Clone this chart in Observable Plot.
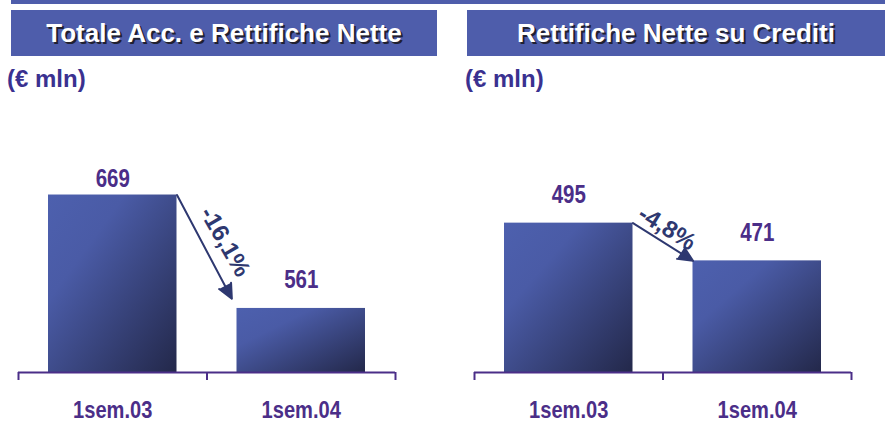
<!DOCTYPE html>
<html><head><meta charset="utf-8">
<script src="https://cdn.jsdelivr.net/npm/d3@7"></script>
<script src="https://cdn.jsdelivr.net/npm/@observablehq/plot@0.6"></script>
<style>
html,body{margin:0;padding:0;background:#fff;}
#page{position:relative;width:885px;height:422px;overflow:hidden;font-family:"Liberation Sans",Arial,sans-serif;}
.strip{position:absolute;left:11px;top:0;width:874px;height:4px;background:#4e5dab;}
.titlebox{position:absolute;top:10px;height:46px;background:#4e5dab;color:#fff;font-weight:bold;font-size:26px;display:flex;align-items:center;justify-content:center;text-shadow:2px 2px 0 #202030;white-space:nowrap;}
.unit{position:absolute;top:67px;line-height:24px;font-size:24px;font-weight:bold;color:#3a3190;white-space:nowrap;}
.panel{position:absolute;top:100px;}
</style></head><body><div id="page"><div class="strip"></div></div>
<script>
// ---- data ----
const categories = ["1sem.03", "1sem.04"];
const totaleValues = [669, 561];
const creditiValues = [495, 471];
const changeLabels = ["-16,1%", "-4,8%"];
const panelTitles = ["Totale Acc. e Rettifiche Nette", "Rettifiche Nette su Crediti"];
const unitLabel = "(€ mln)";
const axisBase = [500, 400];
const axisTop = [759, 573];

// ---- layout / style ----
const purple = "#4b2e88";
const navy = "#2e3870";
const panels = [
  {values: totaleValues, left: 0, width: 440, mL: 18, mR: 45, titleLeft: 11, titleWidth: 426, unitLeft: 7,
   firstDy: -8, insetEnd: 11, lblDx: 18, lblDy: -10, rotate: 60},
  {values: creditiValues, left: 440, width: 445, mL: 34, mR: 34, titleLeft: 467, titleWidth: 418, unitLeft: 465,
   firstDy: -20, insetEnd: 0, lblDx: 4, lblDy: -14, rotate: 32}
];
const H = 322, mB = 50, barInset = 30;
const page = document.getElementById("page");

panels.forEach((p, k) => {
  const t = document.createElement("div");
  t.className = "titlebox";
  t.style.left = p.titleLeft + "px"; t.style.width = p.titleWidth + "px";
  t.textContent = panelTitles[k];
  page.appendChild(t);
  const u = document.createElement("div");
  u.className = "unit"; u.style.left = p.unitLeft + "px"; u.textContent = unitLabel;
  page.appendChild(u);

  const base = axisBase[k];
  const rows = categories.map((c, i) => ({category: c, index: i, value: p.values[i]}));
  const bandPx = (p.width - p.mL - p.mR) / categories.length;
  const insetData = barInset / bandPx;
  const change = {label: changeLabels[k], v0: p.values[0], v1: p.values[1]};
  const gradId = "barGrad" + k;

  const svg = Plot.plot({
    width: p.width, height: H,
    marginLeft: p.mL, marginRight: p.mR, marginTop: 0, marginBottom: mB,
    x: {type: "linear", domain: [0, categories.length]},
    y: {domain: [base, axisTop[k]], axis: null},
    style: {fontFamily: "'Liberation Sans', Arial, sans-serif", overflow: "visible", background: "transparent"},
    marks: [
      Plot.rect(rows, {x1: d => d.index, x2: d => d.index + 1, y1: () => base, y2: "value",
        insetLeft: barInset, insetRight: barInset, fill: `url(#${gradId})`}),
      Plot.ruleY([base], {stroke: purple, strokeWidth: 2}),
      Plot.axisX({ticks: d3.range(categories.length + 1), tickSize: 8, stroke: purple, strokeWidth: 2,
        fill: "none", label: null}),
      Plot.axisX({ticks: categories.map((c, i) => i + 0.5), tickSize: 0, tickPadding: 28,
        tickFormat: v => categories[Math.floor(v)], fill: purple, fontSize: 24.5, fontWeight: "bold", label: null}),
      Plot.text(rows.filter(d => d.index === 0), {x: d => d.index + 0.5, y: "value", text: d => String(d.value),
        dy: p.firstDy, lineAnchor: "bottom", fontSize: 25, fontWeight: "bold", fill: purple}),
      Plot.text(rows.filter(d => d.index > 0), {x: d => d.index + 0.5, y: "value", text: d => String(d.value),
        dy: -20, lineAnchor: "bottom", fontSize: 25, fontWeight: "bold", fill: purple}),
      Plot.arrow([change], {x1: () => 1 - insetData, y1: "v0", x2: () => 1 + insetData, y2: "v1",
        stroke: navy, fill: navy, strokeWidth: 2, headLength: 12, headAngle: 50, insetEnd: p.insetEnd}),
      Plot.text([change], {x: () => 1, y: d => (d.v0 + d.v1) / 2, text: "label", rotate: p.rotate,
        dx: p.lblDx, dy: p.lblDy, textAnchor: "middle", lineAnchor: "middle",
        fontSize: 24, fontWeight: "bold", fill: navy})
    ]
  });

  const s = d3.select(svg);
  const grad = s.insert("defs", ":first-child").append("linearGradient")
    .attr("id", gradId).attr("x1", 0).attr("y1", 0).attr("x2", 1).attr("y2", 1);
  grad.append("stop").attr("offset", "0").attr("stop-color", "#4d60ae");
  grad.append("stop").attr("offset", "0.3").attr("stop-color", "#4a5ba6");
  grad.append("stop").attr("offset", "1").attr("stop-color", "#23284a");
  // narrow (condensed) look for value and category labels
  s.selectAll("text").each(function () {
    const tr = this.getAttribute("transform") || "";
    if (!tr.includes("rotate")) this.setAttribute("transform", tr + " scale(0.82,1)");
  });

  svg.classList.add("panel");
  svg.style.left = p.left + "px";
  page.appendChild(svg);
});
</script></body></html>
